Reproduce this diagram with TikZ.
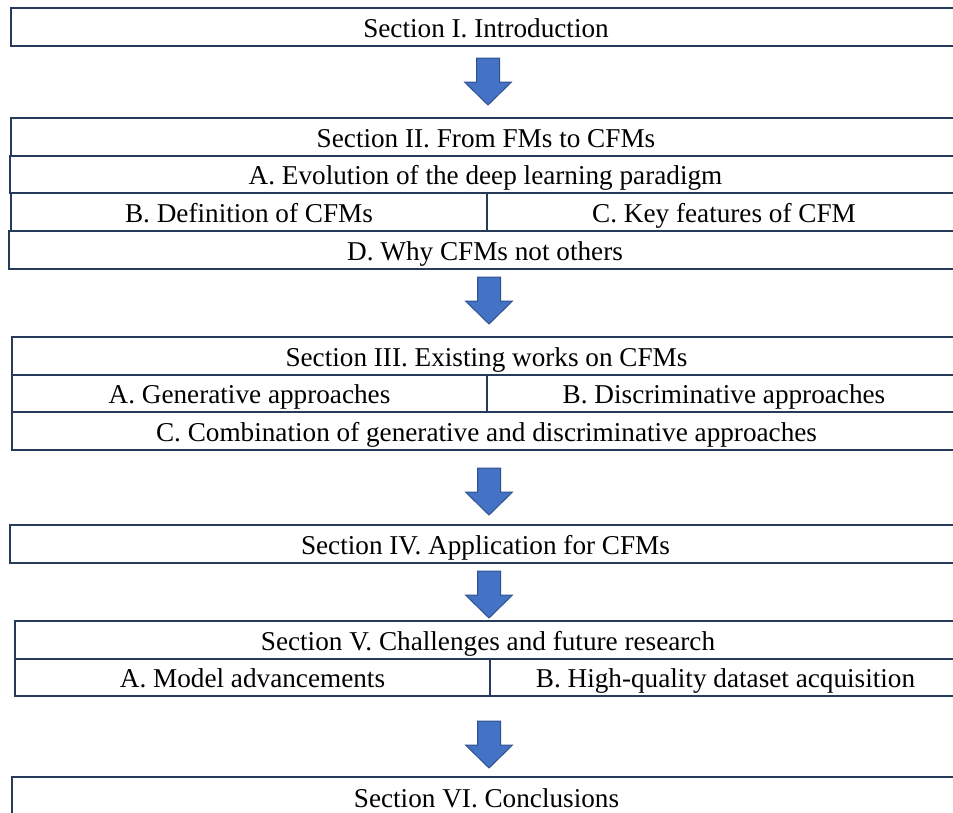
\documentclass[tikz,border=0pt]{standalone}
\usepackage{fontspec}
\setmainfont{Liberation Serif}
\definecolor{bordercol}{HTML}{263A5A}
\definecolor{arrfill}{HTML}{4472C4}
\definecolor{arrline}{HTML}{2F528F}
\tikzset{
  cell/.style={draw=bordercol, line width=1.5pt, rectangle, anchor=north west,
    inner sep=0pt, outer sep=0pt, text height=20pt, text depth=0pt,
    font=\fontsize{27.2}{30}\selectfont},
  blockarrow/.style={fill=arrfill, draw=arrline, line width=1pt, line join=miter},
  downarr/.pic={\draw[blockarrow] (-11.5,0) -- (11.5,0) -- (11.5,24) -- (23.5,24)
    -- (0,47) -- (-23.5,24) -- (-11.5,24) -- cycle;}
}
\begin{document}
\begin{tikzpicture}[x=1pt,y=-1pt]
\useasboundingbox[fill=white] (0,0) rectangle (953,812);
% Section I
\node[cell,minimum width=950pt,minimum height=38pt] (s1) at (11,8) {Section I. Introduction};
% Section II
\node[cell,minimum width=950pt,minimum height=38pt] (s2) at (11,118) {Section II. From FMs to CFMs};
\node[cell,minimum width=951pt,minimum height=37pt] (s2a) at (10,156) {A. Evolution of the deep learning paradigm};
\node[cell,minimum width=476pt,minimum height=38pt] (s2b) at (11,193) {B. Definition of CFMs};
\node[cell,minimum width=474pt,minimum height=38pt] (s2c) at (487,193) {C. Key features of CFM};
\node[cell,minimum width=952pt,minimum height=38pt] (s2d) at (9,231) {D. Why CFMs not others};
% Section III
\node[cell,minimum width=949pt,minimum height=38pt] (s3) at (12,337) {Section III. Existing works on CFMs};
\node[cell,minimum width=475pt,minimum height=37pt] (s3a) at (12,375) {A. Generative approaches};
\node[cell,minimum width=474pt,minimum height=37pt] (s3b) at (487,375) {B. Discriminative approaches};
\node[cell,minimum width=949pt,minimum height=38pt] (s3c) at (12,412) {C. Combination of generative and discriminative approaches};
% Section IV
\node[cell,minimum width=951pt,minimum height=38pt] (s4) at (10,525) {Section IV. Application for CFMs};
% Section V
\node[cell,minimum width=946pt,minimum height=38pt] (s5) at (15,621) {Section V. Challenges and future research};
\node[cell,minimum width=475pt,minimum height=37pt] (s5a) at (15,659) {A. Model advancements};
\node[cell,minimum width=471pt,minimum height=37pt] (s5b) at (490,659) {B. High-quality dataset acquisition};
% Section VI
\node[cell,minimum width=949pt,minimum height=40pt] (s6) at (12,777) {Section VI. Conclusions};
% block arrows
\coordinate (a1) at (488,58);
\coordinate (a2) at (489,277);
\coordinate (a3) at (489,468);
\coordinate (a4) at (489,571);
\coordinate (a5) at (489,721);
\pic at (a1) {downarr};
\pic at (a2) {downarr};
\pic at (a3) {downarr};
\pic at (a4) {downarr};
\pic at (a5) {downarr};
\end{tikzpicture}
\end{document}
